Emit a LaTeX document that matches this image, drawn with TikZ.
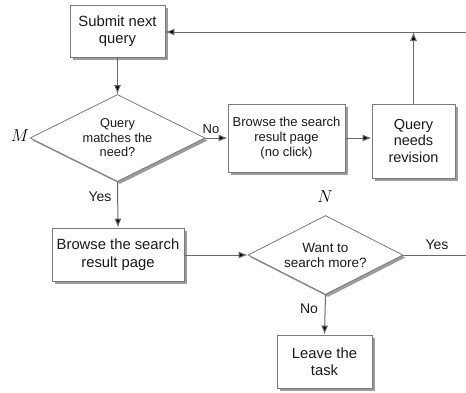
\documentclass[tikz,border=0pt]{standalone}
\usepackage{fontspec}
\setmainfont{Liberation Sans}
\usetikzlibrary{shapes.geometric,shadows,arrows.meta}
\definecolor{bord}{HTML}{7A7A7A}
\definecolor{conn}{HTML}{6A6A6A}
\definecolor{txt}{HTML}{1A1A1A}
\tikzset{
  shad/.style={drop shadow={shadow xshift=2.5pt, shadow yshift=-2.5pt, fill=black!55, opacity=0.7}},
  box/.style={draw=bord, line width=0.9pt, fill=white, align=center, text=txt, inner sep=0pt, shad},
  dia/.style={draw=bord, line width=0.8pt, fill=white, diamond, aspect=2, align=center, text=txt, inner sep=0pt, shad},
  conn/.style={draw=conn, line width=1pt, -{Latex[length=9pt,width=7pt,fill=black]}},
  plain/.style={draw=conn, line width=1pt},
  lab/.style={text=txt, font=\fontsize{14}{14}\selectfont},
  ml/.style={font=\fontsize{16}{16}\selectfont}
}
\begin{document}
\begin{tikzpicture}[x=1pt,y=-1pt]
\useasboundingbox[fill=white] (0,0) rectangle (466,392);
\node[box, minimum width=95pt, minimum height=52pt, font=\fontsize{14.8}{17}\selectfont] (s1) at (117.5,31) {Submit next\\query};
\node[dia, minimum width=175pt, minimum height=87pt, font=\fontsize{12.8}{14.5}\selectfont] (m) at (117.5,138) {Query\\matches the\\need?};
\node[box, minimum width=117pt, minimum height=68pt, font=\fontsize{13}{14.8}\selectfont] (b2) at (286.5,138) {Browse the search\\result page\\(no click)};
\node[box, minimum width=83pt, minimum height=74pt, font=\fontsize{14.5}{16.5}\selectfont] (q3) at (413.5,141) {Query\\needs\\revision};
\node[box, minimum width=132pt, minimum height=53pt, font=\fontsize{14.8}{17.5}\selectfont] (b4) at (118,254.5) {Browse the search\\result page};
\node[dia, minimum width=155pt, minimum height=79pt, font=\fontsize{13.5}{15}\selectfont] (n) at (325.5,255) {Want to\\search more?};
\node[box, minimum width=95pt, minimum height=53pt, font=\fontsize{14.8}{17}\selectfont] (l5) at (324.5,361.5) {Leave the\\task};
\node[ml] (mlab) at (20,136) {$M$};
\node[ml] (nlab) at (325,197) {$N$};
\coordinate (topend) at (466,32);
\coordinate (join) at (q3.north |- topend);
\coordinate (yesend) at (466,255);
\draw[conn] (topend) -- (s1.east |- topend);
\draw[conn] (s1) -- (m.north);
\draw[conn] (m.east) -- (b2.west |- m.east);
\draw[conn] (b2.east |- m.east) -- (q3.west |- m.east);
\draw[conn] (q3.north) -- (join);
\draw[conn] (m.south) -- (b4.north);
\draw[conn] (b4.east |- n.west) -- (n.west);
\draw[plain] (n.east) -- (yesend);
\draw[conn] (n.south) -- (l5.north);
\node[lab, font=\fontsize{13}{13}\selectfont] (no1) at (211,129) {No};
\node[lab] (yes1) at (100,197) {Yes};
\node[lab] (yes2) at (437,245) {Yes};
\node[lab] (no2) at (309,309) {No};
\end{tikzpicture}
\end{document}
